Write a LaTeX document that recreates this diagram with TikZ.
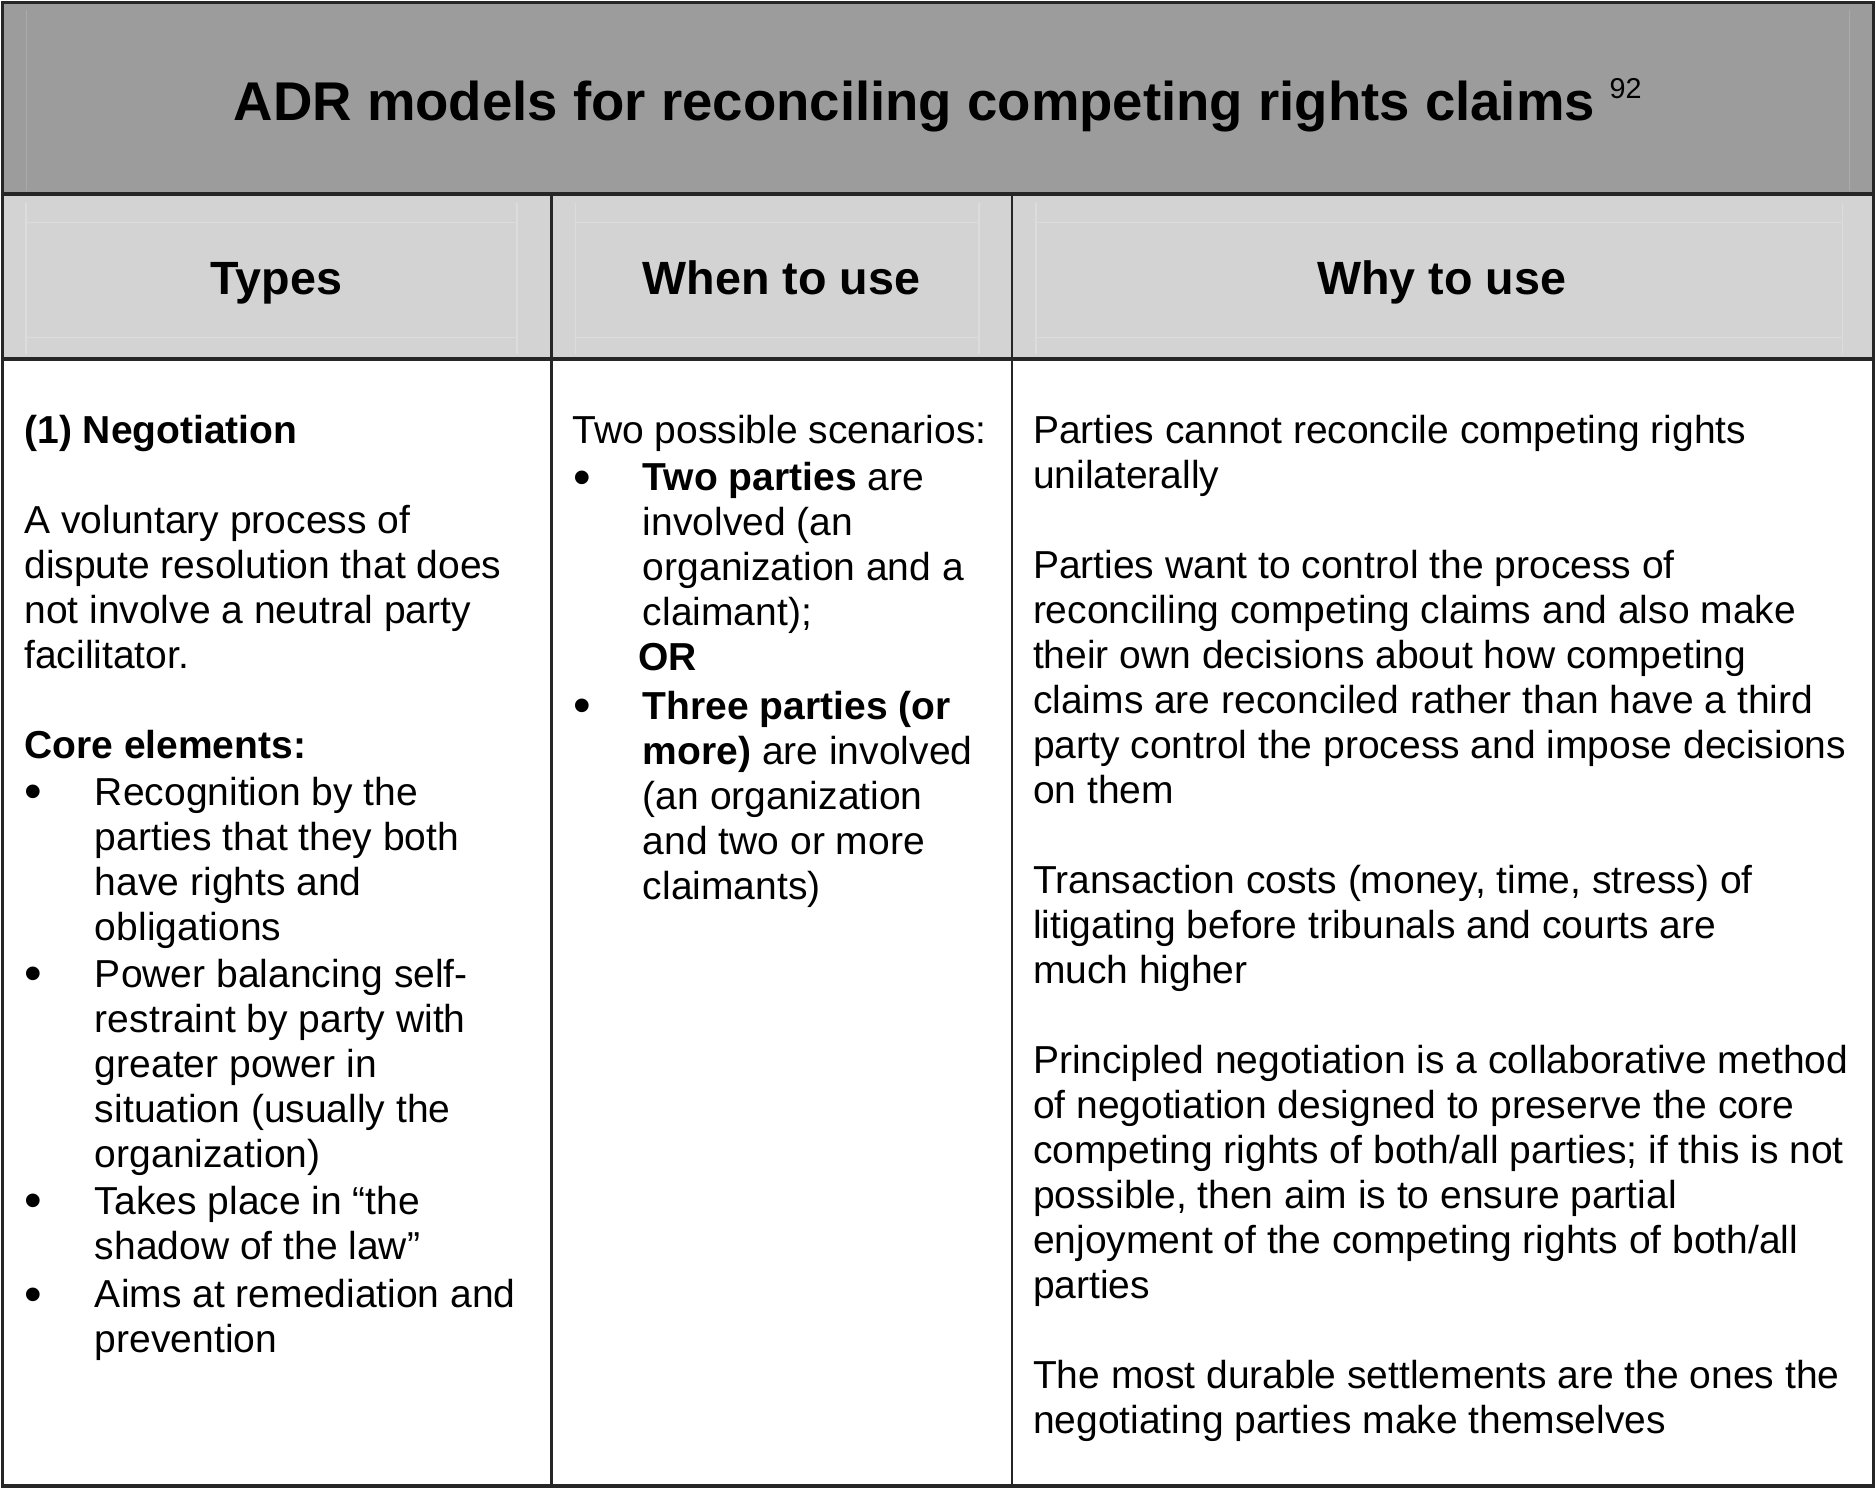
\documentclass[tikz,border=0pt]{standalone}
\usepackage{fontspec}
\setmainfont{Liberation Sans}
\definecolor{titlegray}{RGB}{156,156,156}
\definecolor{headgray}{RGB}{211,211,211}
\definecolor{faintline}{RGB}{220,220,220}
\definecolor{faintdark}{RGB}{170,170,170}
\begin{document}
\begin{tikzpicture}[x=0.5pt,y=-0.5pt,
  ln/.style={anchor=base west,inner sep=0pt,font=\fontsize{16.3}{18.8}\selectfont},
  bul/.style={anchor=base,inner sep=0pt,font=\fontsize{21}{18.8}\selectfont},
  headtxt/.style={anchor=base,inner sep=0pt,font=\fontsize{19.5}{22}\selectfont\bfseries},
  titletxt/.style={anchor=base west,inner sep=0pt,font=\fontsize{22.8}{26}\selectfont\bfseries},
  suptxt/.style={anchor=base west,inner sep=0pt,font=\fontsize{12}{14}\selectfont},
  thickrule/.style={line width=1.5pt,black!85},
  colrule/.style={line width=1pt,black!85},
  outer/.style={line width=1.3pt,black!85}]
\useasboundingbox (0,0) rectangle (1568,1243.7);
% backgrounds
\fill[white] (0,0) rectangle (1568,1243.7);
\fill[titlegray] (2,2) rectangle (1566,162);
\fill[headgray] (2,162) rectangle (1566,300);
% faint artefact lines
\draw[faintdark,line width=0.6pt] (22,8) -- (22,160) (1546,8) -- (1546,160);
\draw[faintline,line width=0.7pt] (22,186) -- (432,186) (22,282) -- (432,282)
  (481,186) -- (818,186) (481,282) -- (818,282)
  (866,186) -- (1540,186) (866,282) -- (1540,282)
  (22,170) -- (22,296) (432,170) -- (432,296)
  (481,170) -- (481,296) (818,170) -- (818,296)
  (866,170) -- (866,296) (1540,170) -- (1540,296);
% rules
\draw[thickrule] (2,162) -- (1566,162);
\draw[thickrule] (2,300) -- (1566,300);
\draw[colrule] (461,162) -- (461,1242);
\draw[colrule] (846,162) -- (846,1242);
\draw[outer] (2,2) rectangle (1566,1242);
% title
\node[titletxt] (title) at (195,101) {ADR models for reconciling competing rights claims};
\node[suptxt] (titlesup) at (1345,82) {92};
% headers
\node[headtxt] (hTypes) at (231,246) {Types};
\node[headtxt] (hWhen) at (653,246) {When to use};
\node[headtxt] (hWhy) at (1205,246) {Why to use};
% column 1
\node[ln] (a0) at (20,371) {\bfseries (1) Negotiation};
\node[ln] (a1) at (20,446.2) {A voluntary process of};
\node[ln] (a2) at (20,483.8) {dispute resolution that does};
\node[ln] (a3) at (20,521.4) {not involve a neutral party};
\node[ln] (a4) at (20,559) {facilitator.};
\node[ln] (a5) at (20,634.2) {\bfseries Core elements:};
\node[bul] (ab1) at (28,676) {•};
\node[ln] (a6) at (79,673) {Recognition by the};
\node[ln] (a7) at (79,710.6) {parties that they both};
\node[ln] (a8) at (79,748.2) {have rights and};
\node[ln] (a9) at (79,785.8) {obligations};
\node[bul] (ab2) at (28,828) {•};
\node[ln] (a10) at (79,825) {Power balancing self-};
\node[ln] (a11) at (79,862.6) {restraint by party with};
\node[ln] (a12) at (79,900.2) {greater power in};
\node[ln] (a13) at (79,937.8) {situation (usually the};
\node[ln] (a14) at (79,975.4) {organization)};
\node[bul] (ab3) at (28,1018) {•};
\node[ln] (a15) at (79,1015) {Takes place in “the};
\node[ln] (a16) at (79,1052.6) {shadow of the law”};
\node[bul] (ab4) at (28,1096) {•};
\node[ln] (a17) at (79,1093) {Aims at remediation and};
\node[ln] (a18) at (79,1130.6) {prevention};
% column 2
\node[ln] (b0) at (478,371) {Two possible scenarios:};
\node[bul] (bb1) at (487,413) {•};
\node[ln] (b1) at (537,410) {\bfseries Two parties\mdseries{} are};
\node[ln] (b2) at (537,447.6) {involved (an};
\node[ln] (b3) at (537,485.2) {organization and a};
\node[ln] (b4) at (537,522.8) {claimant);};
\node[ln] (b5) at (533,560.4) {\bfseries OR};
\node[bul] (bb2) at (487,604) {•};
\node[ln] (b6) at (537,601) {\bfseries Three parties (or};
\node[ln] (b7) at (537,638.6) {\bfseries more)\mdseries{} are involved};
\node[ln] (b8) at (537,676.2) {(an organization};
\node[ln] (b9) at (537,713.8) {and two or more};
\node[ln] (b10) at (537,751.4) {claimants)};
% column 3
\node[ln] (c0) at (863,371) {Parties cannot reconcile competing rights};
\node[ln] (c1) at (863,408.6) {unilaterally};
\node[ln] (c2) at (863,483.8) {Parties want to control the process of};
\node[ln] (c3) at (863,521.4) {reconciling competing claims and also make};
\node[ln] (c4) at (863,559) {their own decisions about how competing};
\node[ln] (c5) at (863,596.6) {claims are reconciled rather than have a third};
\node[ln] (c6) at (863,634.2) {party control the process and impose decisions};
\node[ln] (c7) at (863,671.8) {on them};
\node[ln] (c8) at (863,747) {Transaction costs (money, time, stress) of};
\node[ln] (c9) at (863,784.6) {litigating before tribunals and courts are};
\node[ln] (c10) at (863,822.2) {much higher};
\node[ln] (c11) at (863,897.4) {Principled negotiation is a collaborative method};
\node[ln] (c12) at (863,935) {of negotiation designed to preserve the core};
\node[ln] (c13) at (863,972.6) {competing rights of both/all parties; if this is not};
\node[ln] (c14) at (863,1010.2) {possible, then aim is to ensure partial};
\node[ln] (c15) at (863,1047.8) {enjoyment of the competing rights of both/all};
\node[ln] (c16) at (863,1085.4) {parties};
\node[ln] (c17) at (863,1160.6) {The most durable settlements are the ones the};
\node[ln] (c18) at (863,1198.2) {negotiating parties make themselves};
\end{tikzpicture}
\end{document}
